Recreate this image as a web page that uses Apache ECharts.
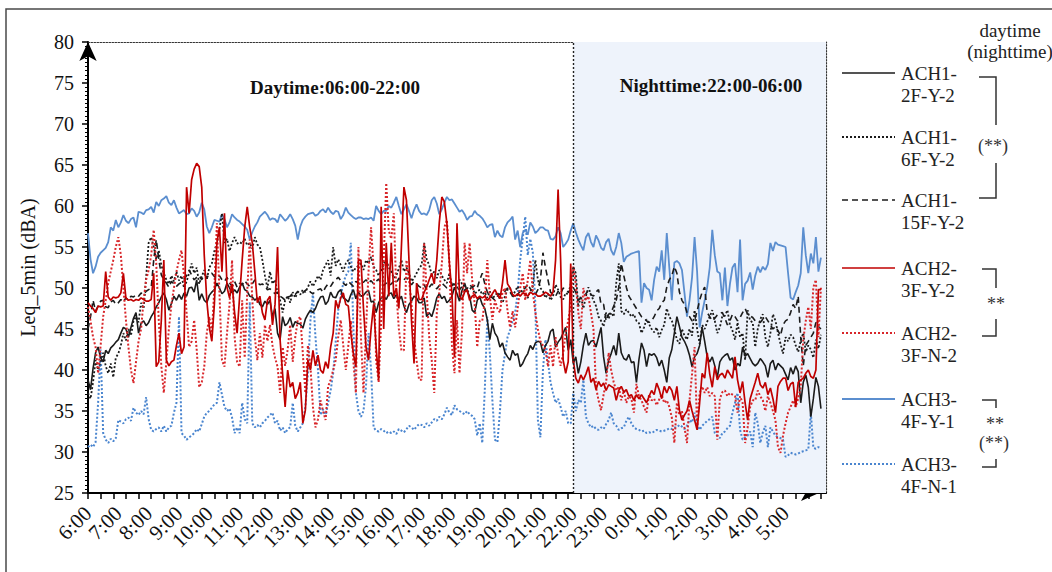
<!DOCTYPE html>
<html>
<head>
<meta charset="utf-8">
<script src="https://cdn.jsdelivr.net/npm/echarts@6/dist/echarts.min.js"></script>
<style>
  html, body { margin: 0; padding: 0; background: #ffffff; }
  #chart { width: 1052px; height: 572px; }
</style>
</head>
<body>
<div id="chart"></div>
<script>
// Hourly tick labels of the 24 h record (5-min Leq samples, 12 per hour)
const hourLabels = ['6:00','7:00','8:00','9:00','10:00','11:00','12:00','13:00','14:00','15:00','16:00','17:00',
  '18:00','19:00','20:00','21:00','22:00','23:00','0:00','1:00','2:00','3:00','4:00','5:00'];
const tailSlots = 5;          // the axis runs a little past 5:55
const nightStartLabel = '22:00';
const yTicks = { min: 25, max: 80, step: 5 };

// ACH1-2F-Y-2
const ach1_2F_Y2 = [
  38.8,37.6,40.2,42.1,42.8,41.5,41.0,42.4,42.0,42.7,43.0,43.4,
  43.7,44.5,45.2,45.0,44.0,45.2,46.3,47.0,44.5,45.7,46.0,45.4,
  45.8,46.5,47.0,47.7,48.2,48.9,49.4,48.6,47.3,48.1,49.0,48.5,
  49.2,48.6,49.4,49.0,50.0,50.1,49.5,51.0,48.5,49.3,48.5,48.2,
  49.1,49.5,49.8,50.6,50.0,49.3,49.6,50.6,50.0,49.4,49.8,49.4,
  50.1,50.6,49.8,49.6,49.0,48.9,48.5,48.8,48.0,47.7,48.4,48.0,
  48.5,46.5,47.5,44.5,43.7,46.5,45.4,45.7,46.4,45.2,45.9,45.7,
  45.6,45.1,46.2,46.8,47.3,47.0,47.5,48.3,48.9,49.0,48.0,48.4,
  49.5,48.9,48.8,49.5,49.8,48.8,48.6,48.3,49.2,49.8,48.7,49.5,
  49.0,49.1,49.5,49.7,48.3,48.4,47.0,48.2,48.8,49.0,48.6,49.3,
  49.4,48.7,49.2,48.5,49.0,47.8,47.0,48.0,48.4,49.0,48.8,48.2,
  48.2,48.8,46.5,47.0,46.5,47.5,48.8,49.3,48.7,49.0,48.2,48.5,
  49.0,50.1,49.3,48.4,49.7,50.6,49.6,49.0,47.3,47.0,48.5,48.9,
  48.0,47.5,46.1,43.7,45.7,44.5,44.0,42.8,43.3,42.1,41.6,41.2,
  42.4,41.8,42.0,40.4,40.8,41.5,42.0,43.0,42.5,43.3,43.5,43.4,
  42.1,43.0,43.5,44.7,45.0,42.8,43.4,43.8,44.5,45.2,42.4,43.7,
  40.8,41.6,39.6,41.0,43.0,44.5,43.0,43.5,43.6,42.8,44.0,45.2,
  41.6,39.6,41.2,42.0,43.0,41.8,44.5,42.1,41.4,41.2,41.9,40.9,
  41.0,38.5,41.3,43.3,42.4,40.4,42.0,41.8,42.0,41.5,40.5,41.2,
  40.0,38.5,41.5,42.5,44.5,46.5,45.3,44.0,43.5,42.8,41.8,40.4,
  41.6,42.0,43.0,45.2,43.5,41.6,41.0,41.6,40.5,39.1,41.0,41.5,
  41.8,42.0,41.2,41.5,40.0,40.8,40.5,42.8,41.7,42.0,41.4,40.8,
  40.5,40.8,41.4,41.0,40.5,39.1,40.8,41.2,40.0,40.8,40.5,40.2,
  39.5,38.8,40.3,39.5,40.5,39.8,36.0,38.5,39.4,37.9,34.3,36.5,
  39.1,38.0,35.3
];

// ACH1-6F-Y-2
const ach1_6F_Y2 = [
  37.2,36.5,38.5,41.2,40.0,41.0,42.1,40.5,39.6,40.8,39.1,41.5,
  42.0,43.0,44.5,43.6,45.0,44.2,46.0,46.5,45.8,48.2,47.5,51.3,
  55.5,56.2,55.0,53.5,54.6,52.8,51.8,51.0,50.5,51.5,50.8,52.0,
  50.9,51.5,50.0,50.8,51.8,53.0,51.8,52.5,50.5,51.4,52.2,51.0,
  52.5,53.0,54.5,55.5,57.2,59.1,55.5,56.0,54.5,55.5,56.2,55.4,
  55.6,55.4,56.0,55.2,55.5,54.8,56.2,55.3,55.0,53.4,51.5,50.0,
  52.0,50.5,51.0,49.4,48.5,47.0,48.5,49.0,48.2,49.5,48.8,49.5,
  49.2,49.8,49.5,50.1,50.8,50.2,50.8,51.5,51.0,52.2,52.8,53.4,
  51.5,55.0,52.7,53.5,52.8,52.0,53.0,53.4,52.6,52.0,52.5,52.7,
  53.0,52.2,53.4,53.0,53.8,52.6,52.2,51.5,52.0,53.0,53.4,52.5,
  52.0,51.2,51.5,52.4,53.4,52.0,52.5,51.8,50.8,51.2,51.8,52.4,
  52.8,55.5,53.5,52.8,51.6,52.0,51.2,52.2,51.5,51.0,50.6,51.8,
  50.3,50.6,50.0,51.0,50.5,50.3,49.5,49.8,50.2,49.3,49.6,49.8,
  49.2,49.5,48.8,49.6,48.8,49.0,49.5,48.6,48.2,49.0,49.8,50.0,
  49.0,49.6,50.2,49.4,49.8,49.1,48.8,49.6,50.2,53.4,51.0,50.0,
  49.6,48.8,49.3,48.5,49.0,50.4,49.8,48.9,48.6,49.4,49.2,50.5,
  52.6,51.8,47.7,49.0,47.5,49.0,50.1,49.2,48.5,47.8,46.5,46.0,
  45.3,47.0,46.3,47.0,46.5,50.6,53.0,47.2,46.8,47.4,47.0,46.5,
  46.8,46.0,45.7,44.5,45.2,46.2,45.6,45.0,44.6,45.2,44.0,44.9,
  45.5,47.5,46.5,46.0,45.0,43.7,43.2,45.0,44.2,43.7,45.0,44.2,
  47.3,45.0,43.2,45.5,45.0,45.9,46.5,47.3,46.0,44.5,45.2,46.6,
  46.6,47.3,45.5,44.8,43.7,45.8,44.0,44.5,41.2,47.3,46.0,45.8,
  42.8,45.0,46.2,46.8,44.0,42.8,44.5,46.8,46.0,44.5,43.2,42.0,
  44.0,43.5,44.3,44.0,43.0,42.2,43.6,44.5,42.2,43.0,42.5,41.5,
  43.7,42.6,44.3
];

// ACH1-15F-Y-2
const ach1_15F_Y2 = [
  45.0,46.5,48.5,47.2,47.8,48.4,48.5,47.7,47.6,48.3,48.5,48.0,
  48.2,48.6,48.3,48.8,48.5,49.0,48.9,49.2,49.0,49.4,49.2,49.6,
  49.8,50.0,53.4,55.9,53.5,51.6,51.0,50.6,50.1,50.8,50.5,50.2,
  50.5,50.7,51.1,51.5,52.2,51.6,51.0,51.3,51.5,51.0,51.7,51.3,
  51.6,51.8,51.4,51.2,51.5,51.0,50.8,51.3,50.6,50.2,50.8,50.1,
  50.6,50.4,50.9,50.5,50.2,50.5,51.0,50.7,50.4,50.5,50.2,49.8,
  49.9,49.6,49.3,49.5,49.0,48.8,48.5,48.9,49.0,49.4,49.2,49.6,
  49.3,49.4,49.7,49.9,49.5,49.3,49.6,49.8,49.9,49.5,50.1,50.5,
  50.2,50.7,51.0,51.3,50.9,50.6,50.3,50.8,50.5,50.2,50.8,50.6,
  50.4,50.7,51.0,50.6,50.9,50.5,50.8,51.1,50.5,50.3,50.6,50.3,
  50.5,50.8,50.6,51.2,50.9,51.0,51.3,50.7,50.4,50.8,50.5,50.2,
  50.0,50.4,49.8,50.1,50.5,50.2,49.9,50.3,50.6,50.3,50.0,50.1,
  50.3,50.5,50.0,49.8,50.2,49.7,49.9,50.4,50.1,50.3,50.0,51.0,
  51.8,50.5,49.5,49.0,48.8,48.5,49.0,49.3,49.2,49.6,50.0,49.5,
  49.0,48.8,49.2,49.6,49.8,50.0,50.5,49.9,49.6,49.2,49.8,51.0,
  54.3,52.5,51.0,49.5,49.2,49.0,49.6,49.3,50.0,49.8,49.5,49.8,
  50.1,49.5,48.5,48.8,49.0,49.3,49.7,49.2,49.0,49.5,49.8,48.0,
  48.0,46.0,46.8,47.0,47.8,48.5,50.1,53.0,51.5,50.1,49.0,48.5,
  48.0,47.5,47.0,46.5,46.3,46.0,45.8,46.0,46.5,47.2,47.5,48.2,
  48.5,50.1,51.0,51.5,52.6,51.8,49.5,48.5,48.0,47.0,46.5,46.0,
  46.0,47.2,48.5,49.5,50.1,47.0,46.5,46.0,46.3,46.7,46.9,47.0,
  46.3,45.5,46.0,46.8,46.5,46.0,46.4,47.0,47.5,46.8,46.6,46.4,
  46.0,45.8,45.8,46.2,46.5,46.0,45.5,45.0,45.3,44.8,44.2,45.5,
  46.0,46.2,47.0,48.0,47.5,49.0,44.0,40.5,43.0,43.5,44.0,44.5,
  45.8,45.3,45.0
];

// ACH2-3F-Y-2
const ach2_3F_Y2 = [
  48.2,47.8,47.5,47.0,47.8,47.7,47.8,52.0,48.9,48.5,48.9,48.8,
  48.9,49.4,51.8,48.8,48.5,48.6,48.4,48.6,48.5,48.8,48.6,48.4,
  48.4,48.6,51.8,40.4,41.0,46.0,53.4,41.2,40.5,41.0,41.2,43.0,
  44.5,42.0,42.8,62.3,59.1,63.2,64.5,65.2,64.8,62.3,54.0,48.5,
  45.2,43.5,48.0,55.5,57.4,52.0,59.1,50.1,48.8,50.5,47.0,44.5,
  49.0,53.4,57.4,59.9,57.4,55.5,52.0,48.2,49.0,47.0,46.1,48.5,
  49.0,45.5,48.0,55.0,43.7,39.5,35.5,40.0,37.9,38.5,36.5,37.2,
  38.5,33.5,35.1,41.2,40.0,42.4,40.5,41.8,40.0,39.6,41.0,40.2,
  42.8,44.5,48.5,47.5,48.8,49.4,48.0,47.8,44.5,42.0,40.4,53.4,
  53.4,47.5,42.8,41.2,45.0,48.0,42.8,38.8,59.9,45.0,55.5,49.0,
  55.5,49.0,50.0,47.5,55.0,62.3,60.7,53.4,46.0,40.8,50.6,48.6,
  48.6,49.5,50.1,51.0,51.8,50.5,53.4,58.0,61.1,60.5,57.9,53.0,
  49.4,41.6,57.9,49.0,48.6,49.5,49.8,48.5,49.0,49.2,48.7,49.0,
  48.8,49.0,48.5,48.8,49.3,49.8,49.2,48.7,50.6,53.4,50.5,50.0,
  49.2,49.0,49.3,49.0,49.4,49.3,49.0,49.5,49.3,49.3,49.0,49.0,
  49.2,49.5,49.3,49.0,49.5,53.4,62.0,53.4,41.2,39.6,41.0,53.0,
  41.2,39.0,38.4,39.4,38.8,39.5,40.4,38.5,39.0,37.6,38.6,38.0,
  38.4,37.5,38.2,38.0,37.8,36.3,37.5,38.0,37.3,37.6,36.8,37.0,
  36.3,37.0,36.5,37.0,36.5,36.0,36.8,37.5,37.0,38.4,37.6,36.5,
  38.0,37.2,38.0,37.5,36.3,38.0,35.1,33.9,34.5,35.0,36.3,35.0,
  33.9,32.7,36.0,39.6,39.0,42.1,39.5,37.9,40.4,38.8,39.4,39.6,
  39.0,40.0,39.5,39.0,41.6,38.8,37.2,38.6,36.0,33.9,36.5,37.5,
  38.5,39.6,38.2,37.8,38.5,37.0,37.8,36.5,34.8,38.0,38.6,39.0,
  39.0,37.5,38.3,38.5,35.5,38.5,38.8,39.0,39.6,40.0,39.2,39.0,
  40.0,49.8,49.8
];

// ACH2-3F-N-2
const ach2_3F_N2 = [
  47.7,46.0,44.0,42.8,39.6,43.0,46.5,48.5,50.6,52.0,53.4,55.0,
  56.2,54.0,50.0,46.1,42.8,40.0,38.4,41.0,43.5,45.0,48.5,51.0,
  52.2,54.0,57.1,53.0,46.1,40.5,37.2,41.0,45.0,48.0,50.0,52.0,
  53.4,54.6,51.5,47.0,42.8,43.5,46.1,42.5,37.9,38.5,40.4,44.5,
  46.5,44.5,50.0,57.9,49.5,41.2,40.4,44.5,48.0,53.4,44.0,41.0,
  40.4,48.5,41.5,49.5,55.9,48.5,44.0,41.2,44.5,41.5,45.5,43.5,
  45.5,43.0,41.5,40.4,37.2,42.8,40.5,42.5,45.5,41.0,44.0,46.1,
  46.5,42.0,37.2,43.0,40.5,35.5,33.0,34.0,36.3,35.0,33.9,38.0,
  38.8,40.0,41.2,44.0,46.1,43.0,40.0,43.0,46.0,41.0,37.2,55.0,
  44.0,37.2,45.0,52.0,57.4,52.5,41.2,38.5,46.0,53.4,62.8,57.0,
  56.0,59.1,49.5,45.0,42.4,42.4,53.4,51.0,48.0,44.0,41.2,38.8,
  38.8,55.5,49.5,44.0,41.2,37.2,47.0,49.5,53.0,57.4,58.3,53.0,
  43.0,39.6,46.1,39.6,44.9,55.5,51.8,55.5,51.0,48.0,42.8,46.0,
  46.0,48.5,53.4,49.0,46.1,48.5,47.5,47.0,49.5,50.0,47.2,45.2,
  47.2,45.2,47.5,50.0,51.8,48.5,51.0,53.4,49.5,47.0,45.0,43.5,
  43.0,42.5,40.4,43.0,40.4,44.0,42.0,40.5,42.0,44.5,46.0,47.8,
  52.6,50.5,47.0,45.0,50.0,48.5,49.0,47.0,45.0,37.9,36.3,35.1,
  37.0,38.5,42.1,40.0,38.5,37.5,38.0,36.3,37.5,36.0,36.8,36.5,
  34.8,38.3,36.8,36.3,35.5,34.8,37.0,36.3,36.5,35.7,36.4,37.0,
  36.0,36.3,35.5,34.2,31.1,36.0,34.5,35.0,33.0,31.1,36.3,39.5,
  42.8,33.0,37.2,38.0,37.2,37.9,36.8,37.2,36.8,31.5,36.5,37.3,
  37.5,36.8,37.2,37.0,36.8,34.8,36.8,36.0,31.1,33.0,35.5,36.3,
  36.3,37.5,36.8,36.3,35.0,36.8,36.0,35.0,33.9,30.6,29.9,32.0,
  33.5,34.8,35.5,36.3,35.5,36.5,37.9,43.7,46.0,47.7,45.0,50.1,
  51.0,44.0,50.1
];

// ACH3-4F-Y-1
const ach3_4F_Y1 = [
  56.7,53.5,51.8,52.6,53.8,54.3,54.6,54.9,55.6,57.4,57.0,58.3,
  57.4,58.0,58.9,58.2,57.9,58.4,58.6,57.4,59.3,59.2,59.0,59.5,
  59.6,59.9,59.2,60.5,60.0,60.7,60.9,61.2,60.4,60.1,60.7,59.8,
  59.1,59.3,59.5,59.0,59.1,59.7,59.4,58.7,59.2,60.4,59.6,57.5,
  56.7,57.4,58.3,58.2,58.1,59.0,58.4,57.4,58.0,59.0,58.6,58.3,
  58.1,57.8,57.5,57.1,55.9,56.8,57.5,58.0,58.7,59.0,59.3,58.9,
  58.3,58.5,58.4,58.0,59.0,58.6,58.2,58.5,59.0,58.4,57.6,55.9,
  57.5,58.3,58.7,59.0,59.1,59.2,58.8,59.0,59.4,59.6,59.2,59.8,
  59.3,59.0,59.4,59.3,58.4,58.9,59.8,59.2,58.9,58.6,58.4,58.6,
  58.6,58.4,58.5,58.4,58.6,58.2,60.0,59.4,59.0,59.4,59.4,60.0,
  59.8,60.4,61.1,60.0,59.0,59.6,60.2,59.4,58.5,59.5,60.2,59.4,
  59.0,59.1,58.9,59.5,60.7,61.1,60.3,59.0,59.6,60.4,61.1,60.7,
  60.8,60.3,59.8,59.3,59.5,59.0,58.3,58.7,58.8,59.4,59.0,58.8,
  58.5,58.0,57.4,57.7,57.8,56.2,57.0,56.4,56.2,57.4,58.0,58.3,
  58.7,55.9,57.0,55.0,56.7,57.1,56.5,58.0,57.5,56.7,57.0,57.4,
  57.4,57.1,57.0,56.0,55.9,56.3,57.4,56.7,55.0,55.4,55.9,57.0,
  57.9,56.8,55.9,55.2,54.6,56.2,56.7,55.6,55.0,56.4,55.8,54.9,
  54.6,55.6,56.0,54.6,54.0,55.0,56.7,55.5,53.2,53.8,54.0,54.2,
  54.3,54.4,54.5,48.2,50.6,50.0,49.8,48.5,51.0,52.6,52.0,54.6,
  51.0,56.7,52.5,48.5,53.1,53.3,53.0,52.2,49.4,46.5,48.5,51.3,
  56.2,52.0,45.2,47.0,48.5,50.1,52.5,57.1,54.0,52.0,51.8,48.5,
  52.5,47.8,50.5,52.5,53.0,49.5,55.9,48.5,50.5,50.9,51.9,49.8,
  51.5,52.6,51.9,52.6,52.2,52.9,55.5,54.5,55.6,55.3,55.2,55.1,
  55.0,51.8,48.8,48.6,49.5,50.3,51.8,57.4,54.0,51.8,54.2,53.0,
  56.2,52.0,53.7
];

// ACH3-4F-N-1
const ach3_4F_N1 = [
  30.6,30.9,30.6,31.2,36.0,42.5,32.3,31.5,31.1,31.6,31.3,31.7,
  33.9,33.7,33.5,34.0,34.2,33.8,35.4,34.8,34.5,35.0,34.6,36.7,
  34.0,32.7,32.5,32.8,33.0,32.5,33.2,32.5,33.0,33.2,34.8,36.0,
  46.5,32.3,32.0,31.5,31.8,32.0,32.3,32.8,32.5,33.4,34.3,34.8,
  35.0,35.4,35.8,36.0,38.5,37.0,35.5,35.0,35.3,34.2,32.3,33.0,
  32.3,36.0,34.0,33.5,48.3,33.5,33.0,33.3,33.0,33.5,33.8,34.2,
  34.5,34.8,33.5,33.8,32.6,33.0,32.3,32.8,33.0,36.0,33.2,32.5,
  33.0,33.5,35.5,39.6,46.0,49.4,44.0,40.0,34.5,35.2,34.3,36.0,
  37.5,39.6,43.5,47.3,49.0,50.6,51.5,52.0,55.5,45.2,37.2,35.0,
  34.3,35.0,38.0,44.5,40.0,33.0,32.6,32.5,32.8,32.6,32.3,32.5,
  32.3,32.5,32.2,32.8,32.6,32.4,32.8,33.2,33.0,32.7,33.1,33.4,
  33.3,33.0,33.5,33.2,33.6,34.0,33.8,34.3,34.0,34.6,35.4,34.8,
  34.5,35.7,35.2,35.0,34.8,34.6,35.0,34.6,34.4,34.0,32.0,33.5,
  31.1,37.6,46.5,42.0,36.3,31.5,31.2,35.0,40.0,42.0,44.0,44.9,
  46.0,47.0,49.4,53.4,56.0,58.7,54.0,56.0,54.3,48.0,33.9,31.8,
  40.0,43.7,41.0,38.5,37.2,36.0,36.5,35.5,34.3,35.0,33.5,33.5,
  37.2,35.0,36.3,36.0,38.8,34.3,33.5,33.0,33.2,32.8,32.7,33.0,
  32.8,33.4,33.9,34.8,33.5,33.2,32.7,32.9,33.0,33.8,34.3,33.5,
  33.0,32.8,32.7,32.5,32.6,32.3,32.4,32.3,32.5,32.7,32.6,32.5,
  32.6,32.7,32.9,32.8,33.0,33.0,33.3,33.1,32.8,33.2,33.9,33.6,
  34.8,33.5,32.7,33.2,33.5,33.8,34.0,34.3,32.3,32.0,31.7,32.3,
  32.5,32.9,33.2,34.8,36.0,37.2,32.7,31.5,31.8,32.0,32.5,30.6,
  34.8,33.5,31.1,32.4,33.2,30.6,33.0,32.5,32.0,31.8,31.7,31.5,
  29.4,29.6,29.9,29.8,29.7,29.8,30.0,30.1,30.2,30.3,34.8,30.5,
  30.4,30.6,30.5
];

// Five-minute category axis built from the hourly labels
const categories = [];
hourLabels.forEach(h => {
  const hh = h.split(':')[0];
  for (let m = 0; m < 60; m += 5) categories.push(hh + ':' + String(m).padStart(2, '0'));
});
for (let k = 0; k < tailSlots; k++) categories.push('+1d 6:' + String(k * 5).padStart(2, '0'));
const nightStart = categories.indexOf(nightStartLabel);
const hourCount = hourLabels.length * 12;

const SERIF = '"Liberation Serif", "Times New Roman", serif';
const BLACK = '#1b1b1b';
const RED = '#C00000';
const RED_DOT = '#D8262A';
const BLUE = '#5B8ECF';
const BLUE_DOT = '#4A85CF';

// Line styles; drawing order is back to front
const lines = [
  { name: 'ACH3-4F-Y-1',  data: ach3_4F_Y1,  color: BLUE,     dash: 'solid', width: 1.8 },
  { name: 'ACH3-4F-N-1',  data: ach3_4F_N1,  color: BLUE_DOT, dash: [2, 2],  width: 2 },
  { name: 'ACH1-15F-Y-2', data: ach1_15F_Y2, color: BLACK,    dash: [6, 4],  width: 1.6 },
  { name: 'ACH1-6F-Y-2',  data: ach1_6F_Y2,  color: BLACK,    dash: [2, 2],  width: 1.8 },
  { name: 'ACH1-2F-Y-2',  data: ach1_2F_Y2,  color: BLACK,    dash: 'solid', width: 1.6 },
  { name: 'ACH2-3F-N-2',  data: ach2_3F_N2,  color: RED_DOT,  dash: [2, 2],  width: 2 },
  { name: 'ACH2-3F-Y-2',  data: ach2_3F_Y2,  color: RED,      dash: 'solid', width: 1.7 }
];

// Legend column order and vertical positions
const legendOrder = ['ACH1-2F-Y-2','ACH1-6F-Y-2','ACH1-15F-Y-2','ACH2-3F-Y-2','ACH2-3F-N-2','ACH3-4F-Y-1','ACH3-4F-N-1'];
const legendY = [73, 137, 200, 268, 333, 399, 464];

const graphics = [];
// outer frame
graphics.push({ type: 'rect', z: 100, shape: { x: 6, y: 9, width: 1100, height: 620 },
  style: { fill: 'none', stroke: '#4a4a4a', lineWidth: 1.5 } });
// period captions
graphics.push({ type: 'text', z: 100, x: 335, y: 87,
  style: { text: 'Daytime:06:00-22:00', font: 'bold 19px ' + SERIF, fill: '#111', align: 'center', verticalAlign: 'middle' } });
graphics.push({ type: 'text', z: 100, x: 711, y: 85,
  style: { text: 'Nighttime:22:00-06:00', font: 'bold 19px ' + SERIF, fill: '#111', align: 'center', verticalAlign: 'middle' } });
// legend header
graphics.push({ type: 'text', z: 100, x: 1010, y: 30,
  style: { text: 'daytime', font: '19px ' + SERIF, fill: '#222', align: 'center', verticalAlign: 'middle' } });
graphics.push({ type: 'text', z: 100, x: 1010, y: 51,
  style: { text: '(nighttime)', font: '19px ' + SERIF, fill: '#222', align: 'center', verticalAlign: 'middle' } });

legendOrder.forEach((name, k) => {
  const def = lines.find(l => l.name === name);
  const y = legendY[k];
  const cut = name.indexOf('-') + 1;
  graphics.push({ type: 'line', z: 100, shape: { x1: 842, y1: y, x2: 895, y2: y },
    style: { stroke: def.color, lineWidth: def.width, lineDash: def.dash === 'solid' ? null : def.dash } });
  graphics.push({ type: 'text', z: 100, x: 901, y: y,
    style: { text: name.slice(0, cut), font: '19px ' + SERIF, fill: '#222', verticalAlign: 'middle' } });
  graphics.push({ type: 'text', z: 100, x: 901, y: y + 22,
    style: { text: name.slice(cut), font: '19px ' + SERIF, fill: '#222', verticalAlign: 'middle' } });
});

// significance brackets
const bracketStyle = { stroke: '#333', lineWidth: 1.5, fill: 'none' };
function bracket(top, topEnd, bottomStart, bottom, x0) {
  graphics.push({ type: 'polyline', z: 100, shape: { points: [[x0, top], [996, top], [996, topEnd]] }, style: bracketStyle });
  graphics.push({ type: 'polyline', z: 100, shape: { points: [[996, bottomStart], [996, bottom], [x0, bottom]] }, style: bracketStyle });
}
function mark(text, x, y) {
  graphics.push({ type: 'text', z: 100, x: x, y: y,
    style: { text: text, font: '18px ' + SERIF, fill: '#333', align: 'center', verticalAlign: 'middle' } });
}
bracket(77, 125, 163, 198, 979);
mark('(**)', 993, 146);
bracket(269, 288, 319, 336, 982);
mark('**', 996, 304);
bracket(400, 408, 459, 467, 982);
mark('**', 995, 424);
mark('(**)', 994, 443);

const chart = echarts.init(document.getElementById('chart'), null, { renderer: 'svg' });

const series = [{
  // night-time shading and the 22:00 divider
  type: 'line', data: [], z: 1, silent: true,
  markArea: { silent: true, itemStyle: { color: '#EEF3FB' },
    data: [[{ xAxis: nightStart }, { xAxis: categories.length - 1 }]] },
  markLine: { silent: true, symbol: 'none', label: { show: false },
    lineStyle: { color: '#222', type: [2, 2], width: 1.4 },
    data: [{ xAxis: nightStart }] }
}];
lines.forEach(l => series.push({
  name: l.name, type: 'line', data: l.data, z: 3,
  symbol: 'none', showSymbol: false, smooth: false,
  lineStyle: { color: l.color, width: l.width, type: l.dash },
  itemStyle: { color: l.color }
}));

chart.setOption({
  animation: false,
  backgroundColor: '#ffffff',
  grid: { left: 88, right: 226, top: 42, bottom: 79 },
  xAxis: [{
    type: 'category', data: categories, boundaryGap: false,
    axisLine: { onZero: false, lineStyle: { color: '#000', width: 2 },
      symbol: ['none', 'arrow'], symbolSize: [12, 18], symbolOffset: [0, -7] },
    axisTick: { show: true, length: 6, interval: idx => idx % 5 === 0, lineStyle: { color: '#000', width: 1.5 } },
    axisLabel: { interval: idx => idx % 12 === 0 && idx < hourCount, rotate: 45, margin: 17,
      fontFamily: SERIF, fontSize: 21, color: '#111' },
    splitLine: { show: false }
  }, {
    type: 'category', data: categories, boundaryGap: false, position: 'top',
    axisLine: { show: true, onZero: false, lineStyle: { color: '#333', width: 1.2, type: [1.5, 1.5] } },
    axisTick: { show: false }, axisLabel: { show: false }, splitLine: { show: false }
  }],
  yAxis: [{
    type: 'value', min: yTicks.min, max: yTicks.max, interval: yTicks.step,
    name: 'Leq_5min (dBA)', nameLocation: 'middle', nameGap: 50, nameRotate: 90,
    nameTextStyle: { fontFamily: SERIF, fontSize: 20, color: '#111' },
    axisLine: { show: true, onZero: false, lineStyle: { color: '#000', width: 2 },
      symbol: ['none', 'arrow'], symbolSize: [13, 19], symbolOffset: [0, 0] },
    axisTick: { show: true, length: 6, lineStyle: { color: '#000', width: 1.5 } },
    minorTick: { show: true, splitNumber: 10, length: 3, lineStyle: { color: '#000', width: 1 } },
    axisLabel: { margin: 14, fontFamily: SERIF, fontSize: 20, color: '#111' },
    splitLine: { show: false }
  }, {
    type: 'value', min: yTicks.min, max: yTicks.max, interval: yTicks.step, position: 'right',
    axisLine: { show: true, onZero: false, lineStyle: { color: '#333', width: 1.2, type: [1.5, 1.5] } },
    axisTick: { show: false }, axisLabel: { show: false }, splitLine: { show: false }
  }],
  series: series,
  graphic: graphics
});
</script>
</body>
</html>
